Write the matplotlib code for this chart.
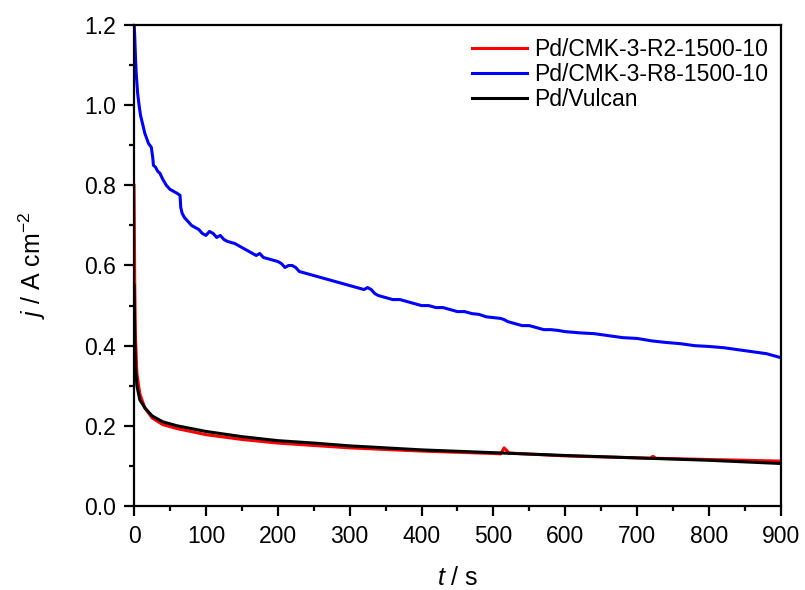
import matplotlib
matplotlib.use('Agg')
import matplotlib.pyplot as plt
from matplotlib.ticker import MultipleLocator, FormatStrFormatter

plt.rcParams['font.family'] = 'Liberation Sans'
plt.rcParams['mathtext.fontset'] = 'custom'
plt.rcParams['mathtext.rm'] = 'Liberation Sans'
plt.rcParams['mathtext.it'] = 'Liberation Sans:italic'

# Pd/CMK-3-R2-1500-10 (red)
t_r2 = [0, 1, 2, 4, 8, 15, 25, 40, 60, 100, 150, 200, 250, 300, 400, 500, 510,
        515, 522, 600, 700, 718, 722, 726, 800, 900]
j_r2 = [0.80, 0.55, 0.42, 0.33, 0.28, 0.245, 0.22, 0.203, 0.193, 0.178, 0.166,
        0.157, 0.151, 0.145, 0.137, 0.131, 0.130, 0.145, 0.132, 0.125, 0.120,
        0.119, 0.124, 0.119, 0.116, 0.112]

# Pd/CMK-3-R8-1500-10 (blue)
t_r8 = [0, 1, 2, 3, 5, 7, 9, 11, 13, 15, 17, 20, 22, 24, 26, 27, 30, 33, 36,
        40, 45, 50, 55, 60, 64, 65, 67, 70, 75, 80, 85, 90, 95, 100, 105, 110,
        115, 120, 125, 130, 140, 150, 160, 165, 170, 175, 180, 190, 200, 205,
        210, 215, 220, 225, 230, 240, 250, 260, 270, 280, 290, 300, 310, 320,
        325, 330, 335, 340, 350, 360, 370, 380, 390, 400, 410, 420, 430, 440,
        450, 460, 470, 480, 490, 500, 510, 515, 520, 530, 540, 550, 560, 570,
        580, 590, 600, 620, 640, 660, 680, 700, 720, 740, 760, 780, 800, 820,
        840, 860, 880, 900]
j_r8 = [1.21, 1.17, 1.12, 1.08, 1.03, 1.00, 0.975, 0.96, 0.945, 0.93, 0.92,
        0.905, 0.90, 0.895, 0.87, 0.85, 0.845, 0.835, 0.83, 0.815, 0.80, 0.79,
        0.785, 0.78, 0.775, 0.745, 0.73, 0.72, 0.71, 0.70, 0.695, 0.69, 0.68,
        0.675, 0.685, 0.68, 0.67, 0.675, 0.665, 0.66, 0.655, 0.645, 0.635,
        0.63, 0.625, 0.63, 0.62, 0.615, 0.61, 0.605, 0.595, 0.60, 0.60, 0.595,
        0.585, 0.58, 0.575, 0.57, 0.565, 0.56, 0.555, 0.55, 0.545, 0.54, 0.545,
        0.54, 0.53, 0.525, 0.52, 0.515, 0.515, 0.51, 0.505, 0.50, 0.50, 0.495,
        0.495, 0.49, 0.485, 0.485, 0.48, 0.478, 0.472, 0.47, 0.468, 0.465,
        0.46, 0.455, 0.45, 0.45, 0.445, 0.44, 0.44, 0.438, 0.435, 0.432, 0.43,
        0.425, 0.42, 0.418, 0.412, 0.408, 0.405, 0.40, 0.398, 0.395, 0.39,
        0.385, 0.38, 0.37]

# Pd/Vulcan (black)
t_vul = [0, 1, 2, 4, 8, 15, 25, 40, 60, 100, 150, 200, 250, 300, 400, 500,
         600, 700, 800, 900]
j_vul = [0.55, 0.42, 0.35, 0.30, 0.265, 0.245, 0.225, 0.21, 0.20, 0.186, 0.173,
         0.163, 0.157, 0.150, 0.140, 0.133, 0.126, 0.120, 0.114, 0.106]

fig = plt.figure(figsize=(8.05, 5.9), dpi=100)
ax = fig.add_axes([0.1665, 0.1424, 0.8035, 0.8152])

ax.plot(t_r2, j_r2, color='#ff0000', lw=2.2, label='Pd/CMK-3-R2-1500-10')
ax.plot(t_r8, j_r8, color='#0000ff', lw=2.2, label='Pd/CMK-3-R8-1500-10')
ax.plot(t_vul, j_vul, color='black', lw=2.2, label='Pd/Vulcan')

ax.set_xlim(0, 900)
ax.set_ylim(0, 1.2)
ax.xaxis.set_major_locator(MultipleLocator(100))
ax.xaxis.set_minor_locator(MultipleLocator(50))
ax.yaxis.set_major_locator(MultipleLocator(0.2))
ax.yaxis.set_minor_locator(MultipleLocator(0.1))
ax.yaxis.set_major_formatter(FormatStrFormatter('%.1f'))

for s in ax.spines.values():
    s.set_linewidth(1.6)
ax.tick_params(which='major', direction='out', length=7, width=1.6,
               labelsize=16.5, pad=6)
ax.tick_params(axis='x', which='major', pad=7)
ax.tick_params(which='minor', direction='out', length=3.5, width=1.6)

ax.set_xlabel('$t$ / s', fontsize=18, labelpad=13)
ax.set_ylabel('$j$ / A cm$^{-2}$', fontsize=18, labelpad=26)

ax.legend(loc='upper right', frameon=False, fontsize=16.5, handlelength=2.4,
          handletextpad=0.3, labelspacing=0.1, borderaxespad=0.15)

fig.savefig('out.png', dpi=100)
